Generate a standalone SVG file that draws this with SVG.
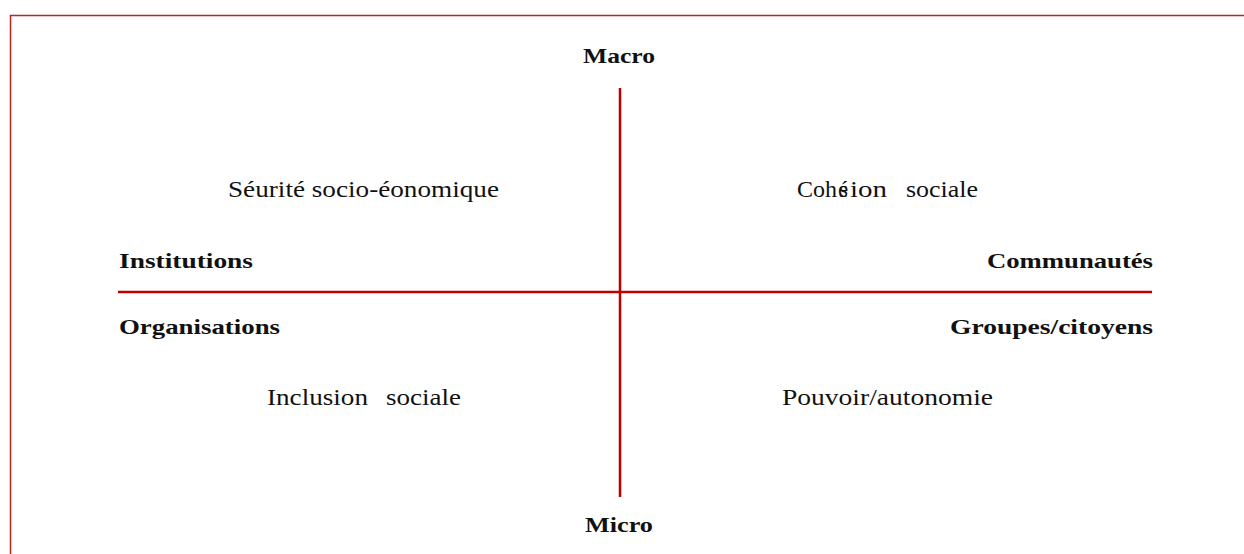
<svg xmlns="http://www.w3.org/2000/svg" width="1244" height="554" viewBox="0 0 1244 554">
<style>
.t{font-family:"Liberation Serif","Times New Roman",serif;font-size:23px;fill:#111}
.b{font-weight:bold;font-size:21px}
.ax{stroke:#c00000;stroke-width:2.5;fill:none}
.fr{stroke:#c42020;stroke-width:1.5;fill:none}
</style>
<rect width="1244" height="554" fill="#fff"/>
<path class="fr" d="M10.5,554 V15.5 H1244"/>
<g id="connectors">
<line class="ax" x1="620" y1="88" x2="620" y2="497"/>
<line class="ax" x1="118" y1="292" x2="1152" y2="292"/>
</g>
<g id="macro"><text class="t b" x="583" y="63" textLength="72" lengthAdjust="spacingAndGlyphs">Macro</text></g>
<g id="micro"><text class="t b" x="585" y="532" textLength="68" lengthAdjust="spacingAndGlyphs">Micro</text></g>
<g id="institutions"><text class="t b" x="119" y="268" textLength="134" lengthAdjust="spacingAndGlyphs">Institutions</text></g>
<g id="communautes"><text class="t b" x="987" y="268" textLength="166" lengthAdjust="spacingAndGlyphs">Communautés</text></g>
<g id="organisations"><text class="t b" x="119" y="334" textLength="161" lengthAdjust="spacingAndGlyphs">Organisations</text></g>
<g id="groupes"><text class="t b" x="950" y="334" textLength="203" lengthAdjust="spacingAndGlyphs">Groupes/citoyens</text></g>
<g id="securite"><text class="t" x="228" y="197" textLength="271" lengthAdjust="spacingAndGlyphs">Séurité socio-éonomique</text></g>
<g id="cohesion"><text class="t" y="197"><tspan x="797" textLength="40" lengthAdjust="spacingAndGlyphs">Coh</tspan><tspan x="838">é</tspan><tspan x="839">s</tspan><tspan x="850" textLength="37" lengthAdjust="spacingAndGlyphs">ion</tspan><tspan x="906" textLength="72" lengthAdjust="spacingAndGlyphs">sociale</tspan></text></g>
<g id="inclusion"><text class="t" y="405"><tspan x="267" textLength="101" lengthAdjust="spacingAndGlyphs">Inclusion</tspan><tspan x="386" textLength="75" lengthAdjust="spacingAndGlyphs">sociale</tspan></text></g>
<g id="pouvoir"><text class="t" x="782" y="405" textLength="211" lengthAdjust="spacingAndGlyphs">Pouvoir/autonomie</text></g>
</svg>
